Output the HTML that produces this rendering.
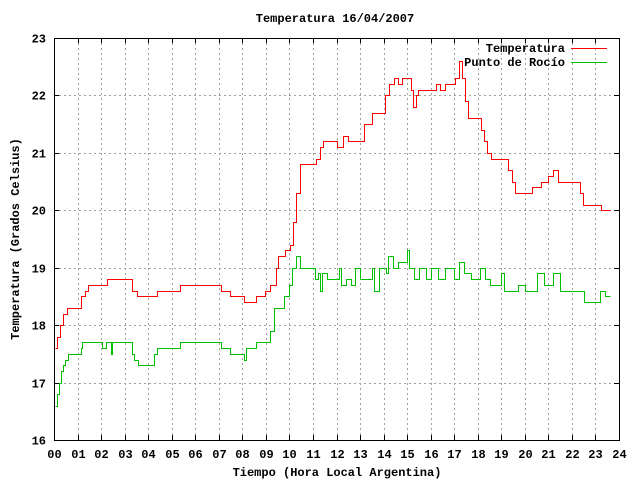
<!DOCTYPE html>
<html><head><meta charset="utf-8"><style>
html,body{margin:0;padding:0;background:#fff}
svg text{font-family:"Liberation Mono",monospace;font-size:12px;font-weight:bold;fill:#000}
svg line,svg path,svg rect{shape-rendering:crispEdges}
</style></head><body>
<svg id="chart" width="640" height="480" xmlns="http://www.w3.org/2000/svg">
<rect width="640" height="480" fill="#fff"/>
<text x="335" y="22" text-anchor="middle">Temperatura 16/04/2007</text>
<text x="337" y="476" text-anchor="middle">Tiempo (Hora Local Argentina)</text>
<text transform="translate(19,239) rotate(-90)" text-anchor="middle">Temperatura (Grados Celsius)</text>
<g id="grid"></g>
<g id="ticks"></g>
<g id="series"></g>
<rect x="54.5" y="38.5" width="565" height="402" fill="none" stroke="#000" stroke-width="1"/>
<g>
<text x="565" y="52" text-anchor="end">Temperatura</text>
<line x1="571" y1="48.5" x2="607" y2="48.5" stroke="#ff0000" stroke-width="1"/>
<text x="565" y="66" text-anchor="end">Punto de Rocío</text>
<line x1="571" y1="62.5" x2="607" y2="62.5" stroke="#00c000" stroke-width="1"/>
</g>
</svg>
<script>
const xTicks=["00","01","02","03","04","05","06","07","08","09","10","11","12","13","14","15","16","17","18","19","20","21","22","23","24"];
const yTicks=[16,17,18,19,20,21,22,23];
const tempHours=[0.04,0.13,0.25,0.38,0.55,1.15,1.32,1.44,2.25,3.31,3.53,4.38,5.35,7.09,7.48,8.07,8.58,8.96,9.18,9.43,9.52,9.81,10.03,10.15,10.28,10.45,11.13,11.3,11.43,12.02,12.28,12.49,13.17,13.51,14.06,14.23,14.44,14.61,14.78,15.17,15.25,15.38,15.46,16.23,16.4,16.61,17.03,17.2,17.33,17.46,17.59,18.14,18.27,18.39,18.56,19.29,19.46,19.58,20.31,20.69,20.99,21.2,21.41,22.34,22.47,23.24,23.62];
const tempValues=[17.6,17.8,18.0,18.2,18.3,18.5,18.6,18.7,18.8,18.6,18.5,18.6,18.7,18.6,18.5,18.4,18.5,18.6,18.7,19.0,19.2,19.3,19.4,19.8,20.3,20.8,20.9,21.1,21.2,21.1,21.3,21.2,21.5,21.7,22.0,22.2,22.3,22.2,22.3,22.1,21.8,22.0,22.1,22.2,22.1,22.2,22.3,22.6,22.3,21.9,21.6,21.4,21.2,21.0,20.9,20.7,20.5,20.3,20.4,20.5,20.6,20.7,20.5,20.3,20.1,20.0,20.0];
const dewHours=[0.04,0.13,0.21,0.3,0.38,0.47,0.59,1.15,1.19,2.04,2.21,2.42,2.46,3.31,3.4,3.57,4.25,4.38,5.35,7.09,7.48,8.07,8.16,8.58,9.18,9.35,9.77,9.98,10.11,10.28,10.45,11.1,11.2,11.3,11.4,11.6,12.0,12.1,12.2,12.4,12.6,12.8,13.0,13.5,13.6,13.8,14.1,14.2,14.4,14.6,15.0,15.1,15.3,15.5,15.8,16.0,16.3,16.6,17.0,17.2,17.4,17.7,18.1,18.3,18.5,19.0,19.1,19.4,19.7,20.0,20.2,20.5,20.8,21.2,21.5,22.1,22.5,23.2,23.4,23.62];
const dewValues=[16.6,16.8,17.0,17.2,17.3,17.4,17.5,17.6,17.7,17.6,17.7,17.5,17.7,17.5,17.4,17.3,17.5,17.6,17.7,17.6,17.5,17.4,17.6,17.7,17.9,18.3,18.5,18.7,19.0,19.2,19.0,18.8,18.9,18.6,18.9,18.8,18.8,19.0,18.7,18.8,18.7,19.0,18.8,19.0,18.6,19.0,18.9,19.2,19.0,19.1,19.3,19.0,18.8,19.0,18.8,19.0,18.8,19.0,18.8,19.1,18.9,18.8,19.0,18.8,18.7,18.9,18.6,18.6,18.7,18.6,18.6,18.9,18.7,18.9,18.6,18.6,18.4,18.6,18.5,18.5];
const L=54,R=619,T=38,B=440;
const xs=h=>L+(R-L)*h/24;
const ys=v=>B-(B-T)*(v-16)/7;
const NS="http://www.w3.org/2000/svg";
function mk(tag,attrs,parent){const e=document.createElementNS(NS,tag);for(const k in attrs)e.setAttribute(k,attrs[k]);parent.appendChild(e);return e;}
const grid=document.getElementById('grid'),ticks=document.getElementById('ticks'),series=document.getElementById('series');
xTicks.forEach((t,i)=>{const x=Math.round(xs(i))+0.5;
 if(i>0&&i<24){const g=mk('line',{x1:x,y1:T,x2:x,y2:B,stroke:'#a0a0a0','stroke-dasharray':'2,3'},grid);}
 mk('line',{x1:x,y1:B,x2:x,y2:B-5,stroke:'#000'},ticks);mk('line',{x1:x,y1:T,x2:x,y2:T+5,stroke:'#000'},ticks);
 const tx=mk('text',{x:x,y:458,'text-anchor':'middle'},ticks);tx.textContent=t;
 
 });
yTicks.forEach(v=>{const y=Math.round(ys(v))+0.5;
 if(v>16&&v<23){const g=mk('line',{x1:L,y1:y,x2:R,y2:y,stroke:'#a0a0a0','stroke-dasharray':'2,3'},grid);}
 mk('line',{x1:L,y1:y,x2:L+5,y2:y,stroke:'#000'},ticks);mk('line',{x1:R,y1:y,x2:R-5,y2:y,stroke:'#000'},ticks);
 const tx=mk('text',{x:46,y:y+4,'text-anchor':'end'},ticks);tx.textContent=v;
 
 });
const px=v=>(Math.round(v)+0.5).toFixed(1);
function stepPath(hs,vs){let d='M'+px(xs(hs[0]))+','+px(ys(vs[0]));
 for(let i=1;i<hs.length;i++){d+=' H'+px(xs(hs[i]))+' V'+px(ys(vs[i]));}return d;}
const p1=mk('path',{d:stepPath(tempHours,tempValues),fill:'none',stroke:'#ff0000','stroke-width':1},series);


const p2=mk('path',{d:stepPath(dewHours,dewValues),fill:'none',stroke:'#00c000','stroke-width':1},series);


</script>
</body></html>
